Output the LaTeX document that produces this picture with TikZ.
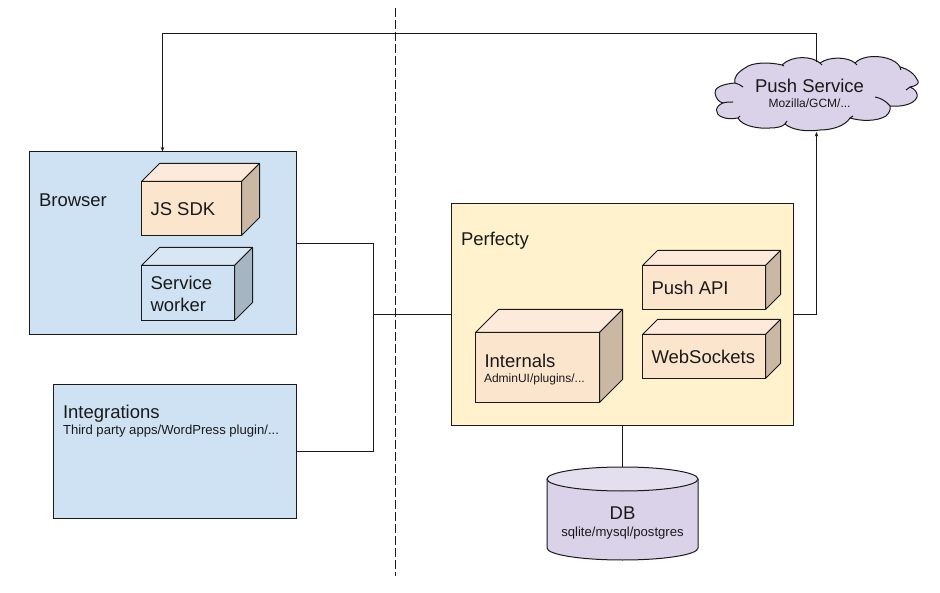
\documentclass[tikz,border=0pt]{standalone}
\usepackage{fontspec}
\setmainfont{Liberation Sans}
\usetikzlibrary{arrows.meta}
\definecolor{boxblue}{HTML}{CFE2F3}
\definecolor{boxcream}{HTML}{FFF2CC}
\definecolor{peach}{HTML}{FCE5CD}
\definecolor{peachtop}{HTML}{FDEADA}
\definecolor{peachside}{HTML}{CAB8A4}
\definecolor{bluetop}{HTML}{D9E7F5}
\definecolor{blueside}{HTML}{A6B5C2}
\definecolor{lav}{HTML}{D9D2E9}
\definecolor{lavtop}{HTML}{E4DFEF}
\definecolor{ink}{HTML}{1A1A1A}
\tikzset{
  panel/.style={draw=ink,line width=1pt,inner sep=0pt,outer sep=0pt,anchor=north west},
  face/.style={panel,anchor=center},
  skin/.style={draw=ink,line width=1pt,line join=round},
  conn/.style={draw=ink,line width=0.9pt},
  tipped/.style={conn,-{Stealth[length=4.5pt,width=3.6pt]}},
  big/.style={inner sep=0pt,outer sep=0pt,anchor=base west,font=\fontsize{18.5}{20}\selectfont,text=ink},
  small/.style={inner sep=0pt,outer sep=0pt,anchor=base west,font=\fontsize{12}{14}\selectfont,text=ink},
  mid/.style={inner sep=0pt,outer sep=0pt,anchor=base west,font=\fontsize{13.1}{15}\selectfont,text=ink},
  ghost/.style={inner sep=0pt,outer sep=0pt,anchor=center}
}
\newcommand{\cuboid}[9]{%
  \node[face,fill=#7,minimum width={(#4-#2)*1pt},minimum height={(#5-#3)*1pt}] (#1) at ({(#2+#4)/2},{(#3+#5)/2}) {};
  \draw[skin,fill=#8] (#1.north west) -- ++(#6,-#6) -- ++({#4-#2},0) -- (#1.north east) -- cycle;
  \draw[skin,fill=#9] (#1.north east) -- ++(#6,-#6) -- ++(0,{#5-#3}) -- (#1.south east) -- cycle;
}
\begin{document}
\begin{tikzpicture}[x=1pt,y=-1pt]
\useasboundingbox (0,0) rectangle (940,593);
% dashed divider
\coordinate (divtop) at (395.5,8);
\coordinate (divbot) at (395.5,576);
\draw[draw=ink,line width=1.1pt,dash pattern=on 9pt off 3pt] (divtop) -- (divbot);
% panels
\node[panel,fill=boxblue,minimum width=266.5pt,minimum height=183.5pt] (browser) at (29.5,151.5) {};
\node[panel,fill=boxblue,minimum width=242.5pt,minimum height=134pt] (integrations) at (53.5,384.5) {};
\node[panel,fill=boxcream,minimum width=342pt,minimum height=222pt] (perfecty) at (451.5,203.5) {};
% cuboids
\cuboid{jssdk}{141.5}{181.5}{241.5}{235.5}{18}{peach}{peachtop}{peachside}
\cuboid{worker}{141.5}{265.5}{234.5}{320.5}{18}{boxblue}{bluetop}{blueside}
\cuboid{pushapi}{642.5}{265.5}{765.5}{309.5}{15}{peach}{peachtop}{peachside}
\cuboid{websockets}{642.5}{334.5}{765.5}{378.5}{15}{peach}{peachtop}{peachside}
\cuboid{internals}{475.5}{332.5}{599.5}{402.5}{23}{peach}{peachtop}{peachside}
% database
\node[ghost,minimum width=151pt,minimum height=93pt] (db) at (622.5,513.5) {};
\draw[skin,fill=lav] (547,479) -- (547,548) arc[x radius=75.5pt,y radius=12pt,start angle=180,end angle=360] -- (698,479) -- cycle;
\draw[skin,fill=lavtop] (622.5,479) ellipse[x radius=75.5pt,y radius=12pt];
% cloud
\node[ghost,minimum width=200pt,minimum height=70pt] (cloud) at (816.5,97) {};
\draw[skin,fill=lav]
  (735,83) .. controls (722,84) and (714,88) .. (715,93)
  .. controls (716,99) and (719,102) .. (723,103)
  .. controls (715,106) and (714,114) .. (722,117)
  .. controls (726,119) and (732,119) .. (738,118)
  .. controls (742,126) and (758,129) .. (770,128)
  .. controls (776,128) and (782,127) .. (785,124)
  .. controls (792,130) and (806,132) .. (820,130)
  .. controls (832,130) and (845,126) .. (850,118)
  .. controls (860,121) and (876,122) .. (886,116)
  .. controls (889,113) and (891,110) .. (890,106)
  .. controls (900,107) and (914,105) .. (917,97)
  .. controls (918,93) and (915,89) .. (910,87)
  .. controls (916,86) and (919,84) .. (918,81)
  .. controls (915,74) and (908,69) .. (900,67)
  .. controls (896,59) and (880,55) .. (868,57)
  .. controls (862,58) and (858,60) .. (855,63)
  .. controls (848,57) and (830,56) .. (820,63)
  .. controls (812,56) and (792,55) .. (782,65)
  .. controls (770,62) and (752,62) .. (745,68)
  .. controls (738,72) and (733,78) .. (735,83) -- cycle;
\draw[skin] (735,83) .. controls (738,84) and (741,85) .. (743,87);
\draw[skin] (723,103) .. controls (726,102) and (730,102) .. (733,102);
\draw[skin] (738,118) -- (740,116);
\draw[skin] (785,124) -- (787,121);
\draw[skin] (850,118) -- (853,116);
\draw[skin] (890,106) .. controls (885,100) and (880,98) .. (875,97);
\draw[skin] (910,87) -- (906,90);
\draw[skin] (900,67) -- (901,70);
\draw[skin] (782,65) -- (784,66);
\draw[skin] (820,63) -- (822,65);
\draw[skin] (855,63) -- (857,65);
% texts
\node[big] (tbrowser) at (39,206.5) {Browser};
\node[big] (tsdk) at (150.5,216) {JS SDK};
\node[big] (tservice) at (150.5,290) {Service};
\node[big] (tworker) at (150.5,312) {worker};
\node[big] (tperfecty) at (461,245.5) {Perfecty};
\node[big] (tpush) at (651.5,295) {Push API};
\node[big] (tws) at (651.5,364) {WebSockets};
\node[big] (tint) at (484.5,367.5) {Internals};
\node[small] (tadmin) at (484,383) {AdminUI/plugins/...};
\node[big] (tintg) at (63,418.5) {Integrations};
\node[mid] (tthird) at (63,435) {Third party apps/WordPress plugin/...};
\node[big,anchor=base] (tdb) at (622.5,519.5) {DB};
\node[mid,anchor=base] (tsql) at (622.5,536) {sqlite/mysql/postgres};
\node[big] (tps) at (755,92.5) {Push Service};
\node[small] (tmoz) at (768.5,108) {Mozilla/GCM/...};
% connectors
\coordinate (bus) at (373.5,314.5);
\draw[conn] (browser.east |- 0,243.5) -| (bus);
\draw[conn] (integrations.east |- 0,451.5) -| (bus);
\draw[conn] (bus) -- (perfecty.west |- bus);
\draw[tipped] (perfecty.east |- bus) -| (cloud.south);
\draw[conn] (perfecty.south -| 622.5,0) -- (db.north);
\coordinate (topright) at (816.5,33.5);
\coordinate (topleft) at (162.5,33.5);
\draw[tipped] (cloud.north) -- (topright) -- (topleft) -- (topleft |- browser.north);
\end{tikzpicture}
\end{document}
